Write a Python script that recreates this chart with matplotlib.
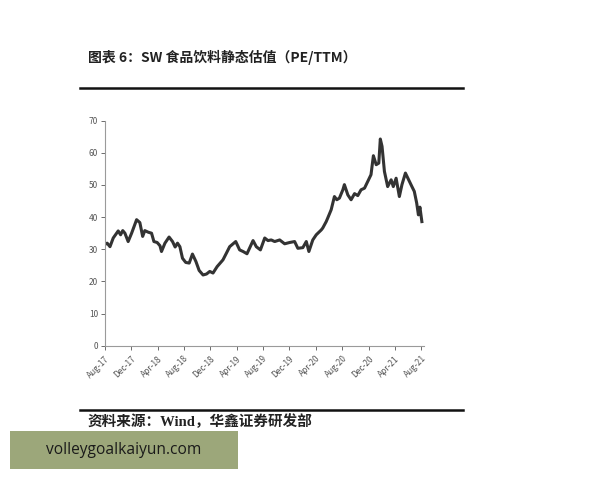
import matplotlib
matplotlib.use('Agg')
import matplotlib.pyplot as plt
import matplotlib.dates as mdates
import pandas as pd

plt.rcParams['font.family'] = ['Noto Sans CJK SC', 'DejaVu Sans']

# PE/TTM 估值
dates = [
    "2017-08-01", "2017-08-11", "2017-08-24", "2017-09-08", "2017-10-01", "2017-10-12",
    "2017-10-22", "2017-11-01", "2017-11-16", "2017-12-02", "2017-12-25", "2018-01-09",
    "2018-01-22", "2018-02-01", "2018-02-17", "2018-03-04", "2018-03-15", "2018-03-30",
    "2018-04-12", "2018-04-19", "2018-05-05", "2018-05-24", "2018-06-09", "2018-06-21",
    "2018-07-02", "2018-07-13", "2018-07-25", "2018-08-09", "2018-08-25", "2018-09-09",
    "2018-09-25", "2018-10-10", "2018-10-28", "2018-11-13", "2018-11-28", "2018-12-13",
    "2019-01-01", "2019-01-28", "2019-02-13", "2019-02-28", "2019-03-28", "2019-04-15",
    "2019-05-01", "2019-05-19", "2019-06-16", "2019-07-01", "2019-07-20", "2019-08-09",
    "2019-08-24", "2019-09-08", "2019-09-24", "2019-10-17", "2019-11-09", "2019-12-02",
    "2019-12-25", "2020-01-09", "2020-02-01", "2020-02-17", "2020-02-29", "2020-03-18",
    "2020-04-03", "2020-04-26", "2020-05-03", "2020-05-19", "2020-05-26", "2020-06-11",
    "2020-06-26", "2020-07-07", "2020-07-19", "2020-08-04", "2020-08-11", "2020-08-27",
    "2020-09-11", "2020-09-27", "2020-10-12", "2020-10-27", "2020-11-12", "2020-11-27",
    "2020-12-12", "2020-12-23", "2021-01-05", "2021-01-17", "2021-01-24", "2021-02-01",
    "2021-02-12", "2021-02-27", "2021-03-15", "2021-03-25", "2021-04-07", "2021-04-22",
    "2021-05-04", "2021-05-20", "2021-06-04", "2021-06-19", "2021-06-30", "2021-07-11",
    "2021-07-19", "2021-07-26", "2021-08-04",
]
pe_ttm = [
    31.5, 31.9, 30.8, 33.5, 35.7, 34.5,
    35.8, 35.0, 32.4, 35.0, 39.2, 38.3,
    34.0, 35.8, 35.3, 35.0, 32.4, 32.1,
    31.1, 29.3, 31.9, 33.8, 32.4, 30.7,
    31.9, 30.8, 27.2, 25.9, 25.7, 28.5,
    26.2, 23.4, 22.0, 22.3, 23.1, 22.6,
    24.6, 26.7, 28.8, 30.8, 32.4, 29.8,
    29.3, 28.6, 32.7, 30.8, 29.8, 33.5,
    32.7, 32.9, 32.4, 32.9, 31.7, 32.1,
    32.4, 30.3, 30.5, 32.4, 29.3, 32.9,
    34.5, 36.0, 36.6, 38.6, 39.7, 42.3,
    46.4, 45.4, 45.9, 48.5, 50.1, 46.9,
    45.4, 47.3, 46.7, 48.5, 49.0, 51.1,
    53.2, 59.1, 56.3, 56.8, 64.3, 62.0,
    54.2, 49.5, 51.6, 49.5, 52.1, 46.4,
    50.1, 53.7, 51.6, 49.5, 48.0, 44.4,
    40.7, 43.1, 38.6,
]
tick_dates = ["2017-08-01", "2017-12-01", "2018-04-01", "2018-08-01", "2018-12-01",
              "2019-04-01", "2019-08-01", "2019-12-01", "2020-04-01", "2020-08-01",
              "2020-12-01", "2021-04-01", "2021-08-01"]
y_ticks = [0, 10, 20, 30, 40, 50, 60, 70]

title = "图表 6：SW 食品饮料静态估值（PE/TTM）"
source = "资料来源：Wind，华鑫证券研发部"
watermark = "volleygoalkaiyun.com"

x = pd.to_datetime(dates)

fig = plt.figure(figsize=(6, 4.8), dpi=100)
ax = fig.add_axes([0.175, 0.2798, 0.531, 0.4688])
ax.plot(x, pe_ttm, color='#333333', lw=2.2, solid_joinstyle='round')

ax.set_ylim(0, 70)
ax.set_yticks(y_ticks)
ax.set_xlim(pd.Timestamp("2017-08-01"), pd.Timestamp("2021-08-12"))
ax.set_xticks(pd.to_datetime(tick_dates))
ax.xaxis.set_major_formatter(mdates.DateFormatter('%b-%y'))
for lbl in ax.get_xticklabels():
    lbl.set_rotation(45)
    lbl.set_ha('right')
    lbl.set_rotation_mode('anchor')
ax.tick_params(labelsize=6, colors='#555555', length=3, width=0.6, pad=2)
ax.tick_params(axis='x', pad=3)
for s in ['top', 'right']:
    ax.spines[s].set_visible(False)
for s in ['left', 'bottom']:
    ax.spines[s].set_color('#9a9a9a')
    ax.spines[s].set_linewidth(0.8)

# 标题、分隔线、资料来源
fig.text(88 / 600, 1 - 57 / 480, title, fontsize=10, fontweight='bold',
         color='#222222', va='center', ha='left')
fig.add_artist(plt.Line2D([80 / 600, 463 / 600], [1 - 88 / 480, 1 - 88 / 480],
                          color='#111111', lw=1.8))
fig.add_artist(plt.Line2D([80 / 600, 463 / 600], [1 - 410 / 480, 1 - 410 / 480],
                          color='#111111', lw=1.8))
fig.text(88 / 600, 1 - 422 / 480, source, fontsize=10.5, fontweight='bold',
         family=['Liberation Serif', 'Noto Sans CJK SC'],
         color='#222222', va='center', ha='left')

# 水印
fig.add_artist(plt.Rectangle((10 / 600, 1 - 469 / 480), 228 / 600, 38 / 480,
                             facecolor='#9ca77a', edgecolor='none'))
fig.text(124 / 600, 1 - 450 / 480, watermark, fontsize=11.2,
         family=['Open Sans', 'DejaVu Sans'], color='#1a1a1a', ha='center', va='center')

fig.savefig('out.png', dpi=100, facecolor='white')
